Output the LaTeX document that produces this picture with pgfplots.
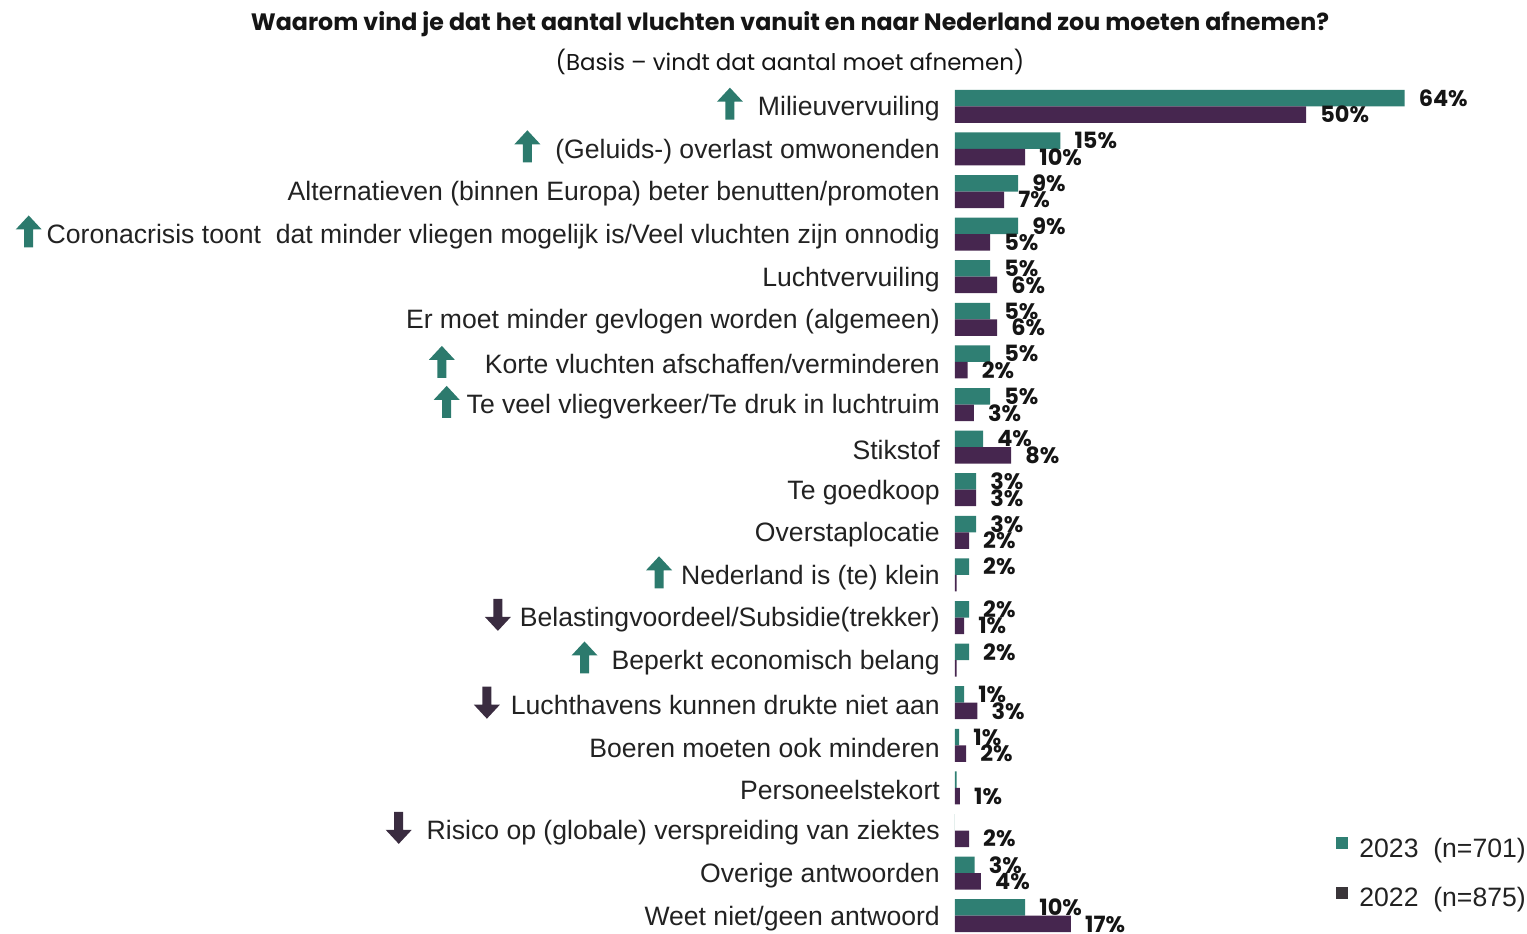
\documentclass[border=0pt]{standalone}
\usepackage{pgfplots}
\pgfplotsset{compat=1.18}
\usepackage{fontspec}
\setmainfont{Liberation Sans}
\newfontfamily\pop{Poppins}
\definecolor{c23}{HTML}{2F7F73}
\definecolor{c22}{HTML}{46264F}
\definecolor{l22}{HTML}{3A3539}
\definecolor{upc}{HTML}{2C7A6D}
\definecolor{dnc}{HTML}{3A2C40}
\definecolor{labc}{HTML}{222222}
\definecolor{valc}{HTML}{151515}
\newcommand{\up}[1]{\smash{\tikz[baseline=4bp]\fill[upc] (-4.5bp,0bp) -- (4.5bp,0bp) -- (4.5bp,18bp) -- (13bp,18bp) -- (0bp,32bp) -- (-13bp,18bp) -- (-4.5bp,18bp) -- cycle;}\hspace{#1}}
\newcommand{\dn}[1]{\smash{\tikz[baseline=4bp]\fill[dnc] (-4.5bp,32bp) -- (4.5bp,32bp) -- (4.5bp,14bp) -- (13bp,14bp) -- (0bp,0bp) -- (-13bp,14bp) -- (-4.5bp,14bp) -- cycle;}\hspace{#1}}
\begin{document}
\begin{tikzpicture}
\begin{axis}[
  at={(0,0)}, anchor=south west,
  scale only axis, width=569bp, height=852bp,
  xbar, bar width=16.5bp,
  xmin=0, xmax=81, ymin=-0.5, ymax=19.5, y dir=reverse,
  hide x axis,
  axis line style={draw=none},
  tick style={draw=none}, major tick length=0pt,
  ytick={0,...,19},
  yticklabels={
    {\up{15bp}Milieuvervuiling},
    {\up{15bp}(Geluids-) overlast omwonenden},
    {Alternatieven (binnen Europa) beter benutten/promoten},
    {\up{5bp}Coronacrisis toont\ \ dat minder vliegen mogelijk is/Veel vluchten zijn onnodig},
    {Luchtvervuiling},
    {Er moet minder gevlogen worden (algemeen)},
    {\up{30bp}Korte vluchten afschaffen/verminderen},
    {\up{7bp}Te veel vliegverkeer/Te druk in luchtruim},
    {Stikstof},
    {Te goedkoop},
    {Overstaplocatie},
    {\up{9bp}Nederland is (te) klein},
    {\dn{9bp}Belastingvoordeel/Subsidie(trekker)},
    {\up{14bp}Beperkt economisch belang},
    {\dn{11bp}Luchthavens kunnen drukte niet aan},
    {Boeren moeten ook minderen},
    {Personeelstekort},
    {\dn{15bp}Risico op (globale) verspreiding van ziektes},
    {Overige antwoorden},
    {Weet niet/geen antwoord}},
  yticklabel style={font=\fontsize{26.7}{30}\selectfont, text=labc, anchor=east, inner sep=0pt, xshift=-15bp, yshift=-2.5bp},
  point meta=explicit symbolic,
  nodes near coords,
  nodes near coords style={font=\pop\bfseries\fontsize{22.5}{24}\selectfont, anchor=west, inner sep=0pt, xshift=14bp, text=valc},
  legend style={at={(0.670,0.119)}, anchor=north west, draw=none, fill=none,
    font=\fontsize{26.7}{30}\selectfont, text=labc, row sep=25bp, inner sep=0pt,
    /tikz/every odd column/.append style={column sep=9bp}},
  legend cell align=left,
  legend image code/.code={\fill[#1] (0bp,-1bp) rectangle (12bp,11bp);},
  clip=false,
]
\addplot[fill=c23, draw=none, bar shift=8.25bp, forget plot] coordinates {
  (64,0) [64\%] (15,1) [15\%] (9,2) [9\%] (9,3) [9\%] (5,4) [5\%]
  (5,5) [5\%] (5,6) [5\%] (5,7) [5\%] (4,8) [4\%] (3,9) [3\%]
  (3,10) [3\%] (2,11) [2\%] (2,12) [2\%] (2,13) [2\%] (1.3,14) [1\%]
  (0.6,15) [1\%] (0.25,16) [] (0,17) [] (2.8,18) [3\%] (10,19) [10\%]
};
\addplot[fill=c22, draw=none, bar shift=-8.25bp, forget plot] coordinates {
  (50,0) [50\%] (10,1) [10\%] (7,2) [7\%] (5,3) [5\%] (6,4) [6\%]
  (6,5) [6\%] (1.8,6) [2\%] (2.7,7) [3\%] (8,8) [8\%] (3,9) [3\%]
  (2,10) [2\%] (0.25,11) [] (1.3,12) [1\%] (0.25,13) [] (3.2,14) [3\%]
  (1.6,15) [2\%] (0.7,16) [1\%] (2,17) [2\%] (3.7,18) [4\%] (16.5,19) [17\%]
};
\addlegendimage{fill=c23, draw=none}
\addlegendentry{2023\ \ (n=701)}
\addlegendimage{fill=l22, draw=none}
\addlegendentry{2022\ \ (n=875)}
\end{axis}
\node[font=\pop\bfseries\fontsize{23.8}{26}\selectfont, text=valc] at (-165bp,913bp) {Waarom vind je dat het aantal vluchten vanuit en naar Nederland zou moeten afnemen?};
\node[font=\pop\fontsize{23}{26}\selectfont, text=valc] at (-165bp,875bp) {(Basis – vindt dat aantal moet afnemen)};
\pgfresetboundingbox
\path (-955bp,3bp) rectangle (572bp,937bp);
\end{tikzpicture}
\end{document}
